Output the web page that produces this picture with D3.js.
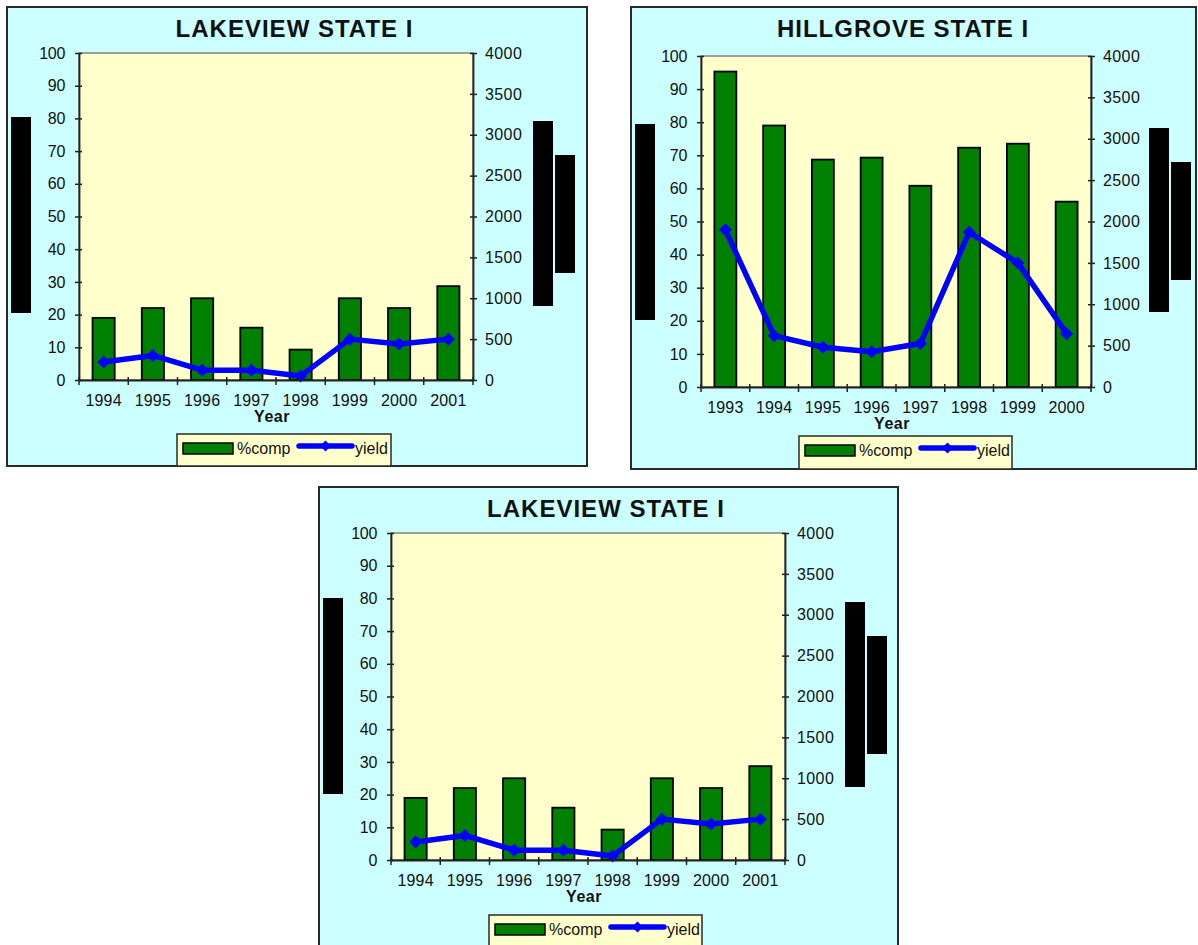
<!DOCTYPE html>
<html>
<head>
<meta charset="utf-8">
<script src="https://cdn.jsdelivr.net/npm/d3@7"></script>
<style>
  body { margin: 0; background: #ffffff; }
  svg { display: block; }
  text { font-family: Arial, "Liberation Sans", sans-serif; fill: #111; }
</style>
</head>
<body>
<svg id="chart" width="1198" height="945"></svg>
<script>
// Lakeview State I: percent composition and yield by year
const lakeviewYears = ["1994", "1995", "1996", "1997", "1998", "1999", "2000", "2001"];
const lakeviewComp = [19, 22, 25, 16, 9.3, 25, 22, 28.7];
const lakeviewYield = [220, 300, 120, 120, 50, 500, 440, 500];

// Hillgrove State I
const hillgroveYears = ["1993", "1994", "1995", "1996", "1997", "1998", "1999", "2000"];
const hillgroveComp = [95.3, 79, 68.7, 69.3, 60.8, 72.3, 73.5, 56];
const hillgroveYield = [1900, 620, 480, 425, 525, 1870, 1500, 645];

// Axis ticks
const compTicks = [0, 10, 20, 30, 40, 50, 60, 70, 80, 90, 100];
const yieldTicks = [0, 500, 1000, 1500, 2000, 2500, 3000, 3500, 4000];

const legendLabels = ["%comp", "yield"];

// Panel layouts (pixel geometry of each chart box)
const panels = [
  {
    title: "LAKEVIEW STATE I", years: lakeviewYears, comp: lakeviewComp, yld: lakeviewYield,
    frame: [7, 7, 587, 466], plot: [79, 53, 473, 380], titleX: 294.5, titleY: 37,
    legend: [177, 434, 391, 466],
    blocks: [[11, 117, 31, 313], [533, 121, 553, 306], [555, 155, 575, 273]]
  },
  {
    title: "HILLGROVE STATE I", years: hillgroveYears, comp: hillgroveComp, yld: hillgroveYield,
    frame: [631, 7, 1196, 469], plot: [701, 56, 1091, 387], titleX: 903, titleY: 37,
    legend: [799, 436, 1012, 469],
    blocks: [[635, 124, 655, 320], [1149, 128, 1169, 312], [1171, 162, 1191, 280]]
  },
  {
    title: "LAKEVIEW STATE I", years: lakeviewYears, comp: lakeviewComp, yld: lakeviewYield,
    frame: [319, 487, 898, 962], plot: [391, 533, 785, 860], titleX: 606, titleY: 517,
    legend: [489, 915, 702, 962],
    blocks: [[323, 598, 343, 794], [845, 602, 865, 787], [867, 636, 887, 754]]
  }
];

const svg = d3.select("#chart");

function diamond(cx, cy, r) {
  return `M${cx},${cy - r}L${cx + r},${cy}L${cx},${cy + r}L${cx - r},${cy}Z`;
}

function drawPanel(p) {
  const g = svg.append("g");
  const [fx0, fy0, fx1, fy1] = p.frame;
  const [px0, py0, px1, py1] = p.plot;

  // chart box
  g.append("rect")
    .attr("x", fx0).attr("y", fy0)
    .attr("width", fx1 - fx0).attr("height", fy1 - fy0)
    .attr("fill", "#CCFFFF").attr("stroke", "#2a2a2a").attr("stroke-width", 2);

  // title
  g.append("text")
    .attr("x", p.titleX).attr("y", p.titleY)
    .attr("text-anchor", "middle")
    .style("font-size", "24px").style("font-weight", "bold")
    .style("letter-spacing", "1px")
    .text(p.title);

  // plot area
  g.append("rect")
    .attr("x", px0).attr("y", py0)
    .attr("width", px1 - px0).attr("height", py1 - py0)
    .attr("fill", "#FFFFCC").attr("stroke", "#808080").attr("stroke-width", 1.5);

  const x = d3.scaleBand().domain(p.years).range([px0, px1]).padding(0);
  const yL = d3.scaleLinear().domain([0, 100]).range([py1, py0]);
  const yR = d3.scaleLinear().domain([0, 4000]).range([py1, py0]);

  // bars (%comp)
  const bw = x.bandwidth() * 0.45;
  g.append("g").selectAll("rect")
    .data(p.years.map((yr, i) => ({ yr, v: p.comp[i] })))
    .join("rect")
    .attr("x", d => x(d.yr) + (x.bandwidth() - bw) / 2)
    .attr("y", d => yL(d.v))
    .attr("width", bw)
    .attr("height", d => yL(0) - yL(d.v))
    .attr("fill", "#008000").attr("stroke", "#000").attr("stroke-width", 1.8);

  // yield line
  const pts = p.years.map((yr, i) => [x(yr) + x.bandwidth() / 2, yR(p.yld[i])]);
  g.append("path")
    .attr("d", d3.line()(pts))
    .attr("fill", "none").attr("stroke", "#0000FF")
    .attr("stroke-width", 5.5).attr("stroke-linejoin", "round");
  g.append("g").selectAll("path")
    .data(pts).join("path")
    .attr("d", d => diamond(d[0], d[1], 6.5))
    .attr("fill", "#0000FF");

  // left axis
  const axL = g.append("g")
    .attr("transform", `translate(${px0},0)`)
    .call(d3.axisLeft(yL).tickValues(compTicks).tickSize(4).tickSizeOuter(0).tickPadding(10));
  axL.selectAll(".tick line").attr("x1", 3).attr("x2", -4);
  axL.selectAll("text").style("font-size", "16px").style("letter-spacing", "-0.3px");

  // right axis
  const axR = g.append("g")
    .attr("transform", `translate(${px1},0)`)
    .call(d3.axisRight(yR).tickValues(yieldTicks).tickFormat(d3.format("d"))
      .tickSize(4).tickSizeOuter(0).tickPadding(8));
  axR.selectAll(".tick line").attr("x1", -3).attr("x2", 4);
  axR.selectAll("text").style("font-size", "16px").style("letter-spacing", "0.4px");

  // bottom axis
  const axB = g.append("g")
    .attr("transform", `translate(0,${py1})`)
    .call(d3.axisBottom(x).tickSize(0).tickSizeOuter(0).tickPadding(15));
  axB.selectAll("text").style("font-size", "16px").style("letter-spacing", "0.2px");
  const bounds = p.years.map(yr => x(yr)).concat([x.range()[1]]);
  axB.append("g").selectAll("line")
    .data(bounds).join("line")
    .attr("x1", d => d).attr("x2", d => d)
    .attr("y1", -3).attr("y2", 5)
    .attr("stroke", "#222").attr("stroke-width", 1.5);

  [axL, axR, axB].forEach(a => {
    a.select(".domain").attr("stroke", "#222").attr("stroke-width", 1.8);
    a.selectAll(".tick line").attr("stroke", "#222").attr("stroke-width", 1.5);
    a.selectAll("text").attr("fill", "#111").style("font-family", "Arial, 'Liberation Sans', sans-serif");
  });

  // x axis title
  g.append("text")
    .attr("x", (px0 + px1) / 2 - 4).attr("y", py1 + 41.5)
    .attr("text-anchor", "middle")
    .style("font-size", "16px").style("font-weight", "bold")
    .style("letter-spacing", "0.5px")
    .text("Year");

  // legend
  const [lx0, ly0, lx1, ly1] = p.legend;
  g.append("rect")
    .attr("x", lx0).attr("y", ly0)
    .attr("width", lx1 - lx0).attr("height", ly1 - ly0)
    .attr("fill", "#FFFFCC").attr("stroke", "#2a2a2a").attr("stroke-width", 1.5);
  g.append("rect")
    .attr("x", lx0 + 6).attr("y", ly0 + 9)
    .attr("width", 50).attr("height", 11)
    .attr("fill", "#008000").attr("stroke", "#000").attr("stroke-width", 1.5);
  g.append("text")
    .attr("x", lx0 + 60).attr("y", ly0 + 20)
    .style("font-size", "16px")
    .text(legendLabels[0]);
  g.append("line")
    .attr("x1", lx0 + 122).attr("x2", lx0 + 175)
    .attr("y1", ly0 + 12).attr("y2", ly0 + 12)
    .attr("stroke", "#0000FF").attr("stroke-width", 5.5).attr("stroke-linecap", "round");
  g.append("path")
    .attr("d", diamond(lx0 + 148.5, ly0 + 12, 5.5))
    .attr("fill", "#0000FF");
  g.append("text")
    .attr("x", lx0 + 178).attr("y", ly0 + 20)
    .style("font-size", "16px")
    .text(legendLabels[1]);

  // solid black blocks beside the axes
  g.append("g").selectAll("rect")
    .data(p.blocks).join("rect")
    .attr("x", d => d[0]).attr("y", d => d[1])
    .attr("width", d => d[2] - d[0]).attr("height", d => d[3] - d[1])
    .attr("fill", "#000");
}

panels.forEach(drawPanel);
</script>
</body>
</html>
